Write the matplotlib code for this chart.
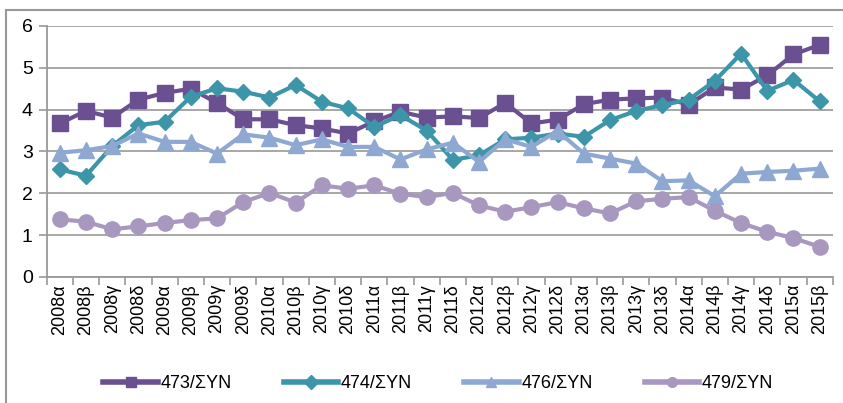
import matplotlib
matplotlib.use("Agg")
import matplotlib.pyplot as plt
from matplotlib.lines import Line2D

plt.rcParams['font.family'] = ['Liberation Sans', 'DejaVu Sans']

quarters = []
for yr in range(2008, 2016):
    for q in ['α', 'β', 'γ', 'δ']:
        quarters.append(f"{yr}{q}")
quarters = quarters[:30]

s473 = [3.67, 3.97, 3.81, 4.24, 4.40, 4.50, 4.16, 3.77, 3.77, 3.63, 3.55, 3.43, 3.72, 3.95,
        3.81, 3.84, 3.80, 4.16, 3.67, 3.76, 4.13, 4.24, 4.27, 4.29, 4.12, 4.53, 4.48, 4.82, 5.32, 5.55]
s474 = [2.57, 2.42, 3.13, 3.63, 3.71, 4.31, 4.51, 4.43, 4.29, 4.59, 4.19, 4.03, 3.59, 3.87,
        3.50, 2.80, 2.91, 3.29, 3.33, 3.43, 3.35, 3.75, 3.97, 4.11, 4.24, 4.69, 5.34, 4.45, 4.71, 4.20]
s476 = [2.97, 3.03, 3.13, 3.43, 3.23, 3.23, 2.95, 3.41, 3.33, 3.15, 3.29, 3.11, 3.11, 2.81,
        3.05, 3.21, 2.75, 3.29, 3.11, 3.49, 2.95, 2.83, 2.71, 2.29, 2.31, 1.93, 2.47, 2.51, 2.54, 2.59]
s479 = [1.38, 1.32, 1.14, 1.21, 1.29, 1.36, 1.40, 1.79, 2.01, 1.78, 2.19, 2.11, 2.19, 1.99,
        1.91, 2.01, 1.71, 1.56, 1.67, 1.79, 1.64, 1.52, 1.81, 1.87, 1.91, 1.58, 1.29, 1.08, 0.93, 0.72]

series_names = ['473/ΣΥΝ', '474/ΣΥΝ', '476/ΣΥΝ', '479/ΣΥΝ']
colors = ['#6A5090', '#3C95A8', '#8EA8D2', '#A898C0']
markers = ['s', 'D', '^', 'o']
msizes = [11, 8, 11, 11]

fig = plt.figure(figsize=(8.43, 4.03), dpi=100)
ax = fig.add_axes([0.0554, 0.3127, 0.9325, 0.6228])

x = list(range(len(quarters)))
for data, name, c, m, ms in zip([s473, s474, s476, s479], series_names, colors, markers, msizes):
    ax.plot(x, data, color=c, lw=3, marker=m, markersize=ms, label=name, zorder=3)

ax.set_xlim(-0.5, 29.5)
ax.set_ylim(0, 6)
ax.set_yticks(range(0, 7))
ax.set_xticks([i - 0.5 for i in range(31)], minor=False)
ax.set_xticklabels([])
ax.set_xticks(x, minor=True)
ax.set_xticklabels(quarters, minor=True, rotation=90, fontsize=13)
ax.tick_params(axis='x', which='minor', length=0, pad=5)
ax.tick_params(axis='x', which='major', length=6, color='#999999', width=1.2)
ax.tick_params(axis='y', length=6, color='#999999', width=1.2, labelsize=14, pad=4)
ax.grid(axis='y', color='#A0A0A0', lw=1.3, zorder=0)
for s in ['top', 'right']:
    ax.spines[s].set_visible(False)
for s in ['left', 'bottom']:
    ax.spines[s].set_color('#999999')
    ax.spines[s].set_linewidth(1.3)

leg = fig.legend(loc='center', bbox_to_anchor=(0.52, 0.048), ncol=4, frameon=False,
                 fontsize=13, handlelength=3.0, columnspacing=2.9, handletextpad=0.15)
for h in leg.legend_handles:
    h.set_markersize(7)
    h.set_linewidth(4)

# outer chart border (partially visible)
fig.add_artist(Line2D([6/843, 6/843], [0, 1 - 10/403], transform=fig.transFigure, color='#999999', lw=1.5))
fig.add_artist(Line2D([6/843, 1], [1 - 10/403, 1 - 10/403], transform=fig.transFigure, color='#999999', lw=1.5))

fig.savefig('out.png', dpi=100)
